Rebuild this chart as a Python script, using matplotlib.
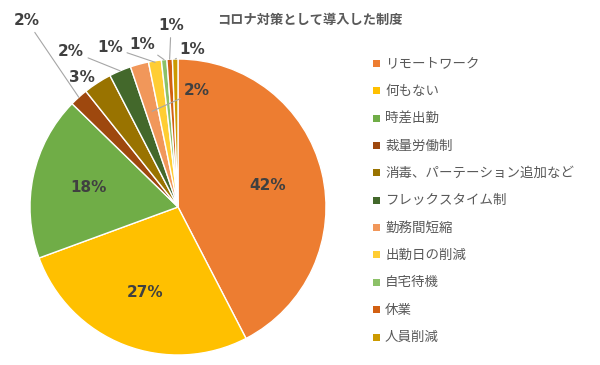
"""
コロナ対策として導入した制度 (pie chart)
"""
import numpy as np
import matplotlib
matplotlib.use("Agg")
from matplotlib import pyplot as plt
from matplotlib.patches import Rectangle

plt.rcParams['font.family'] = ['Noto Sans CJK JP', 'DejaVu Sans']

categories = ["リモートワーク", "何もない", "時差出勤", "裁量労働制",
              "消毒、パーテーション追加など", "フレックスタイム制", "勤務間短縮",
              "出勤日の削減", "自宅待機", "休業", "人員削減"]
shares = [42.4, 27.0, 17.9, 2.0, 3.1, 2.4, 2.0, 1.4, 0.6, 0.6, 0.6]
colors = ["#ED7D31", "#FFC000", "#70AD47", "#9E480E", "#997300", "#43682B",
          "#F1975A", "#FFCD33", "#8CC168", "#D26012", "#CC9A00"]
title = "コロナ対策として導入した制度"

# label placement (None = inside the slice), and where the leader line ends
label_pos = [None, None, None, (-1.02, 1.257), (-0.649, 0.872), (-0.723, 1.054),
             (0.13, 0.784), (-0.459, 1.081), (-0.243, 1.101), (-0.047, 1.223),
             (0.095, 1.061)]
leader_r = [None, None, None, 1.0, None, 1.0, 0.67, 0.99, 1.0, 1.0, 1.0]

fig = plt.figure(figsize=(6.0, 3.65), dpi=100)
ax = fig.add_axes([30/600, 10/365, 296/600, 296/365])

wedges, _ = ax.pie(shares, colors=colors, startangle=90, counterclock=False,
                   radius=1.0, wedgeprops=dict(edgecolor='white', linewidth=1.0))
ax.set_xlim(-1, 1)
ax.set_ylim(-1, 1)
ax.set_aspect('auto')
ax.set_clip_on(False)

txt_kw = dict(ha='center', va='center', fontsize=11, fontweight='bold',
              color='#404040', family=['DejaVu Sans'])
total = sum(shares)
for w, v, pos, r in zip(wedges, shares, label_pos, leader_r):
    ang = np.deg2rad((w.theta1 + w.theta2) / 2)
    lab = f"{round(v / total * 100)}%"
    if pos is None:
        ax.text(0.62*np.cos(ang), 0.62*np.sin(ang), lab, **txt_kw)
    elif r is None:
        ax.text(pos[0], pos[1], lab, **txt_kw)
    else:
        ax.annotate(lab, xy=(r*np.cos(ang), r*np.sin(ang)), xytext=pos,
                    arrowprops=dict(arrowstyle='-', color='#A6A6A6', lw=0.8,
                                    shrinkA=1, shrinkB=0),
                    annotation_clip=False, **txt_kw)

fig.text(310/600, 1 - 20/365, title, ha='center', va='center', fontsize=9.5,
         fontweight='bold', color='#595959')

# legend
for i, (name, c) in enumerate(zip(categories, colors)):
    y = 1 - (63.5 + i*27.35) / 365
    fig.patches.append(Rectangle((373/600, y - 3.5/365), 7/600, 7/365,
                                 transform=fig.transFigure, facecolor=c,
                                 edgecolor='none'))
    fig.text(385/600, y, name, ha='left', va='center', fontsize=9.7,
             color='#595959')

fig.savefig("out.png", dpi=100)
